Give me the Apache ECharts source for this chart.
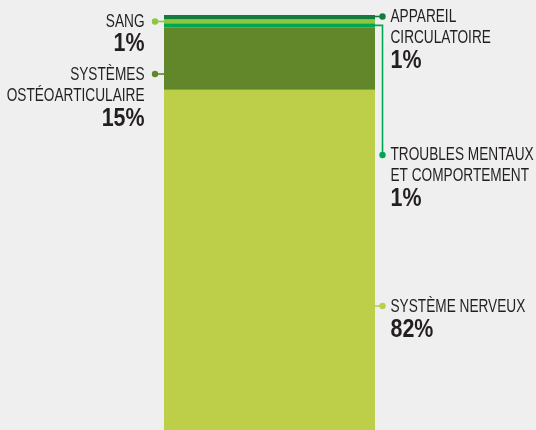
<!DOCTYPE html>
<html>
<head>
<meta charset="utf-8">
<script src="https://cdn.jsdelivr.net/npm/echarts@6/dist/echarts.min.js"></script>
<style>
  html, body { margin: 0; padding: 0; background: #efefef; }
  #chart { width: 536px; height: 430px; }
</style>
</head>
<body>
<div id="chart"></div>
<script>
// data, stacked from the bottom of the bar to the top
const names = ['SYSTÈME NERVEUX', 'SYSTÈMES OSTÉOARTICULAIRE', 'TROUBLES MENTAUX ET COMPORTEMENT', 'SANG', 'APPAREIL CIRCULATOIRE']
const values = [82, 15, 1, 1, 1]
const pctLabels = ['82%', '15%', '1%', '1%', '1%']
const colors = ['#bdcf48', '#62862a', '#00a651', '#8dc63f', '#157a3e']

// label layout: side, text lines, leader y (px) and first text line centre
const labelLayout = [
    { side: 'right', lines: ['SYSTÈME NERVEUX'], dotY: 306, textY: 307 },
    { side: 'left', lines: ['SYSTÈMES', 'OSTÉOARTICULAIRE'], dotY: 74, textY: 75 },
    { side: 'right', lines: ['TROUBLES MENTAUX', 'ET COMPORTEMENT'], dotY: 155, textY: 155.5, elbow: true },
    { side: 'left', lines: ['SANG'], dotY: 21.5, textY: 21.8 },
    { side: 'right', lines: ['APPAREIL', 'CIRCULATOIRE'], dotY: 16.5, textY: 17.5 }
]

const FONT = '"Liberation Sans", Arial, sans-serif'
const TEXT_COLOR = '#231f20'

const myChart = echarts.init(document.getElementById('chart'))
const option = {
    backgroundColor: '#efefef',
    animation: false,
    grid: { left: 164, width: 211, top: 15, bottom: 0 },
    xAxis: { type: 'category', data: ['total'], show: false },
    yAxis: { type: 'value', min: 0, max: 100, show: false },
    series: values.map((v, i) => ({
        name: names[i],
        type: 'bar',
        stack: 'all',
        barWidth: '100%',
        itemStyle: { color: colors[i] },
        data: [v]
    }))
}
myChart.setOption(option)

// condensed text: normal font squeezed horizontally
function txt (str, x, y, align, bold) {
    return {
        type: 'text', x: x, y: y,
        scaleX: bold ? 0.84 : 0.78,
        style: {
            text: str,
            align: align,
            verticalAlign: 'middle',
            fontFamily: FONT,
            fontSize: bold ? 25.5 : 17.5,
            fontWeight: bold ? 'bold' : 'normal',
            fill: TEXT_COLOR
        }
    }
}

// leader lines and labels
const center = myChart.convertToPixel({ gridIndex: 0 }, ['total', 0])[0]
const leftX = center - 105.5
const rightX = center + 105.5
const graphics = []
let cum = 0
values.forEach((v, i) => {
    const mid = cum + v / 2
    cum += v
    const L = labelLayout[i]
    const segY = myChart.convertToPixel({ gridIndex: 0 }, ['total', mid])[1]
    const c = colors[i]
    let tx, align, dx
    if (L.side === 'right') {
        dx = rightX + 7.5
        let pts = [[rightX, L.dotY], [dx, L.dotY]]
        if (L.elbow) pts = [[rightX, segY], [dx, segY], [dx, L.dotY]]
        graphics.push({ type: 'polyline', shape: { points: pts }, style: { stroke: c, lineWidth: 1.6, fill: null } })
        tx = 390.5
        align = 'left'
    } else {
        dx = leftX - 9
        graphics.push({ type: 'line', shape: { x1: dx, y1: L.dotY, x2: leftX, y2: L.dotY }, style: { stroke: c, lineWidth: 1.6 } })
        tx = 144.5
        align = 'right'
    }
    graphics.push({ type: 'circle', shape: { cx: dx, cy: L.dotY, r: 3.2 }, style: { fill: c } })
    L.lines.forEach((t, k) => {
        graphics.push(txt(t, tx, L.textY + k * 21, align, false))
    })
    graphics.push(txt(pctLabels[i], tx, L.textY + (L.lines.length - 1) * 21 + 22.5, align, true))
})
myChart.setOption({ graphic: graphics })
</script>
</body>
</html>
